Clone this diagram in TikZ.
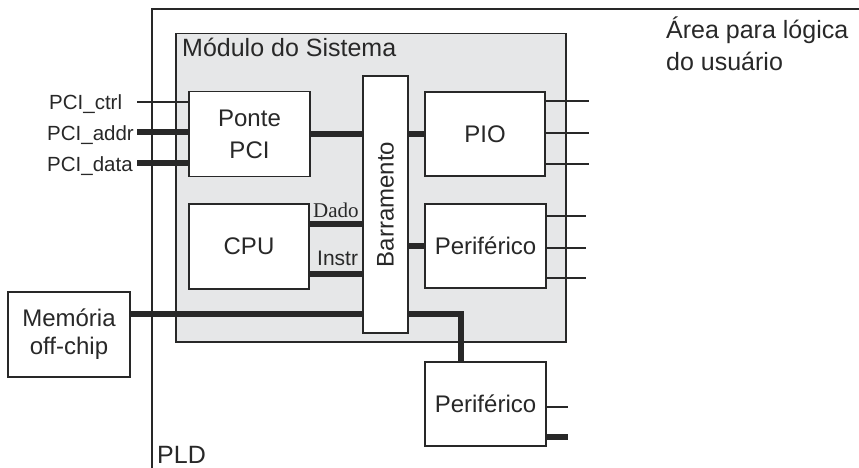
\documentclass[tikz,border=0pt]{standalone}
\usepackage{fontspec}
\setmainfont{Liberation Sans}
\newfontfamily\dadoserif{Liberation Serif}
\usetikzlibrary{positioning}
\definecolor{modgrey}{RGB}{230,231,232}
\definecolor{edge}{RGB}{40,40,40}

\begin{document}
\begin{tikzpicture}[x=1pt,y=-1pt,every node/.style={font=\fontsize{24}{32}\selectfont, text=edge},
  blk/.style={draw=edge, line width=1.5pt, fill=white, inner sep=0pt, align=center},
  sig/.style={draw=edge, line width=1.6pt},
  wide/.style={draw=edge, line width=5.5pt},
  pinlbl/.style={font=\fontsize{20.5}{24}\selectfont, anchor=base west, inner sep=0pt}]
\useasboundingbox (0,0) rectangle (859,468);
\draw[sig] (152,470) -- (152,9) -- (862,9);
\node[anchor=base west, inner sep=0pt, font=\fontsize{25}{30}\selectfont] (pldlbl) at (157,463) {PLD};
\node[anchor=base west, inner sep=0pt, align=left, font=\fontsize{25}{32}\selectfont] (arealbl) at (666,71) {Área para lógica\\do usuário};
\node[draw=edge, line width=1.5pt, fill=modgrey, minimum width=390pt, minimum height=308pt, anchor=north west, inner sep=0pt] (modulo) at (175,33) {};
\node[anchor=base west, inner sep=0pt, font=\fontsize{25}{30}\selectfont] (modlbl) at (182,57) {Módulo do Sistema};
\node[blk, minimum width=121pt, minimum height=85pt] (ponte) at (249.5,134) {Ponte\\PCI};
\node[blk, minimum width=120pt, minimum height=85pt] (cpu) at (249,246.5) {CPU};
\node[blk, minimum width=45pt, minimum height=257pt] (bus) at (385.5,204.5) {};
\node[rotate=90] (buslbl) at (bus.center) {Barramento};
\node[blk, minimum width=120pt, minimum height=84pt] (pio) at (485,134) {PIO};
\node[blk, minimum width=121pt, minimum height=84pt] (per1) at (485.5,246) {Periférico};
\node[blk, minimum width=122pt, minimum height=85pt, font=\fontsize{24}{28}\selectfont] (mem) at (69,334.5) {Memória\\off-chip};
\node[blk, minimum width=121pt, minimum height=84pt] (per2) at (485.5,404) {Periférico};
\node[pinlbl] (ctrllbl) at (49,110) {PCI\_ctrl};
\node[pinlbl] (addrlbl) at (47,140) {PCI\_addr};
\node[pinlbl] (datalbl) at (47,171) {PCI\_data};
\coordinate (ctrl) at (137,102);
\coordinate (addr) at (137,132);
\coordinate (data) at (137,163);
\draw[sig] (ctrl) -- (ctrl -| ponte.west);
\draw[wide] (addr) -- (addr -| ponte.west);
\draw[wide] (data) -- (data -| ponte.west);
\draw[wide] (ponte.east) -- (ponte.east -| bus.west);
\draw[wide] (pio.west -| bus.east) -- (pio.west);
\draw[wide] (per1.west -| bus.east) -- (per1.west);
\draw[wide] ([yshift=22.5pt]cpu.east) -- ([yshift=22.5pt]cpu.east -| bus.west);
\draw[wide] ([yshift=-27.5pt]cpu.east) -- ([yshift=-27.5pt]cpu.east -| bus.west);
\node[anchor=base west, inner sep=0pt, font=\dadoserif\fontsize{21}{24}\selectfont] (dadolbl) at (313,217) {Dado};
\node[anchor=base west, inner sep=0pt, font=\fontsize{21}{24}\selectfont] (instrlbl) at (317,265) {Instr};
\draw[wide] ([yshift=20.5pt]mem.east) -- ([yshift=20.5pt]mem.east -| bus.west);
\coordinate (drop) at (461,314);
\draw[wide] (drop -| bus.east) -- (drop) -- (drop |- per2.north);
\foreach \yy [count=\i] in {101,133,164} {\coordinate (pioout\i) at (589,\yy); \draw[sig] (pioout\i -| pio.east) -- (pioout\i);}
\foreach \yy [count=\i] in {216,248,278} {\coordinate (perout\i) at (586,\yy); \draw[sig] (perout\i -| per1.east) -- (perout\i);}
\coordinate (ext1) at (568,407);
\coordinate (ext2) at (568,437);
\draw[sig] (ext1 -| per2.east) -- (ext1);
\draw[wide] (ext2 -| per2.east) -- (ext2);
\end{tikzpicture}
\end{document}
